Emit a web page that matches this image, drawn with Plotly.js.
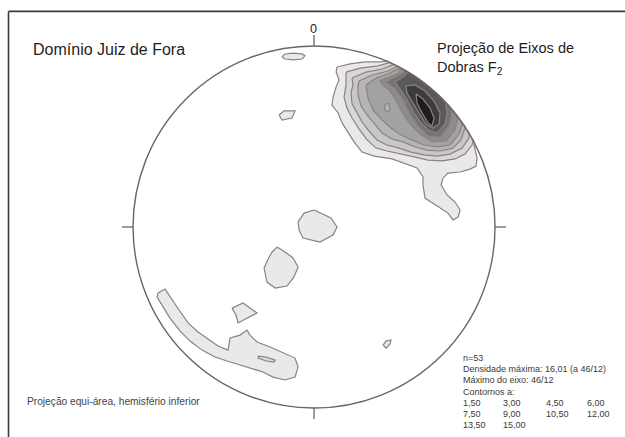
<!DOCTYPE html>
<html>
<head>
<meta charset="utf-8">
<script src="https://cdn.plot.ly/plotly-3.0.1.min.js"></script>
<style>
  html, body { margin: 0; padding: 0; background: #ffffff; overflow: hidden; }
  #chart { width: 625px; height: 437px; }
</style>
</head>
<body>
<div id="chart"></div>
<script>
// ---- Data (equal-area net coordinates, primitive circle radius = 100) ----
const nPoints = 53;
const maxDensity = 16.01;
const maxAxis = "46/12";
const contourLevels = [1.5, 3.0, 4.5, 6.0, 7.5, 9.0, 10.5, 12.0, 13.5, 15.0];

// NE cluster, one polygon per contour level (x = East, y = North)
const neLevel1 = [[12.7,88.4],[19.9,90.1],[28.2,91.2],[36.5,91.2],[45.3,92.3],[58.6,86.7],[72.4,76.8],[81.8,65.7],[88.4,52.5],[88.4,45.3],[90.1,38.1],[89.5,33.7],[86.2,32.0],[80.7,30.4],[74.0,29.8],[71.3,27.1],[70.2,23.2],[73.5,17.7],[77.9,13.8],[80.7,9.4],[79.6,5.5],[76.8,3.9],[74.0,7.7],[69.6,10.5],[65.2,13.3],[61.3,16.0],[60.2,23.2],[60.2,27.6],[56.9,32.6],[49.7,35.4],[43.1,37.6],[33.2,39.2],[26.5,41.4],[22.1,47.0],[18.8,51.9],[15.5,57.5],[13.3,63.0],[9.9,67.4],[10.5,71.8],[12.2,77.4],[13.8,81.2],[12.2,85.6]];
const neLevel2 = [[17.7,85.6],[25.4,87.8],[35.4,89.0],[43.1,91.2],[45.9,94.5],[61.3,87.8],[76.2,75.7],[85.1,63.5],[89.5,52.5],[87.3,45.3],[83.4,40.3],[77.9,37.6],[70.7,36.5],[63.0,37.0],[55.3,38.7],[47.5,40.3],[40.3,42.0],[34.3,43.6],[29.3,48.1],[24.9,54.1],[21.0,60.2],[18.2,65.7],[16.6,71.8],[17.7,78.5]];
const neLevel3 = [[21.0,82.3],[28.7,85.6],[37.6,87.3],[44.8,90.1],[47.0,94.5],[63.0,87.8],[77.9,74.6],[86.2,61.9],[85.6,49.2],[81.8,43.6],[75.1,40.3],[68.0,39.2],[60.8,39.8],[53.6,41.4],[47.0,43.6],[40.3,45.3],[34.8,48.1],[30.4,53.0],[26.5,58.0],[23.8,63.0],[21.0,68.0],[20.4,74.0],[21.5,78.5]];
const neLevel4 = [[24.9,80.7],[32.0,84.0],[40.9,86.2],[46.4,89.0],[48.1,93.9],[64.1,86.7],[79.6,72.9],[84.0,61.9],[83.4,54.7],[81.2,48.1],[76.8,43.6],[69.6,42.0],[62.4,42.5],[55.8,44.2],[49.2,47.0],[43.1,48.6],[37.6,51.9],[33.2,56.9],[29.3,61.9],[26.0,66.9],[24.3,72.9],[24.3,77.4]];
const neLevel5 = [[28.7,78.5],[34.3,82.3],[42.0,85.1],[47.0,87.8],[49.2,93.9],[65.2,85.6],[78.5,71.3],[82.3,58.0],[80.1,51.4],[75.1,45.3],[68.0,44.2],[60.8,45.3],[54.1,48.1],[48.1,50.8],[42.5,54.7],[37.0,59.7],[32.6,64.6],[29.8,71.3]];
const neLevel5Hole = [[39.2,68.0],[41.4,68.0],[42.0,65.2],[40.9,63.5],[39.2,64.6]];
const neLevel6 = [[36.5,80.7],[41.4,82.9],[47.0,85.1],[49.7,93.4],[65.7,85.6],[76.2,72.4],[79.6,61.3],[77.9,53.6],[72.9,47.5],[65.2,47.0],[58.6,51.4],[53.0,56.9],[48.6,63.5],[45.3,70.2],[41.4,75.7],[37.6,79.0]];
const neLevel7 = [[39.8,80.1],[44.8,82.9],[49.7,85.6],[53.0,92.3],[66.3,83.4],[74.6,71.8],[76.2,63.0],[74.6,55.8],[69.6,49.7],[63.0,50.3],[57.5,55.8],[53.0,62.4],[49.2,70.2],[44.8,76.2]];
const neLevel8 = [[44.8,80.1],[49.2,82.9],[54.1,87.8],[65.2,81.2],[72.4,70.7],[73.5,63.5],[72.4,56.9],[68.0,51.9],[63.0,53.6],[58.6,58.0],[54.7,64.1],[51.4,70.2],[47.5,76.2]];
const neLevel9 = [[50.8,77.9],[55.8,78.5],[61.3,75.1],[66.3,69.6],[69.6,63.0],[69.1,56.9],[65.7,54.7],[61.9,56.9],[58.0,63.0],[54.1,69.6],[51.4,74.0]];
const neLevel10 = [[56.4,73.5],[60.2,70.7],[64.1,65.7],[66.3,60.2],[65.2,55.8],[63.0,57.5],[59.7,63.0],[56.9,68.5]];

// isolated closed contours at the lowest level
const blobNorth = [[-17.7,93.9],[-16.0,95.6],[-11.6,96.1],[-6.6,95.6],[-5.0,94.5],[-6.6,92.8],[-11.6,92.3],[-16.0,92.8]];
const blobNorthWest = [[-19.3,61.9],[-16.6,64.1],[-10.5,64.1],[-12.2,60.2],[-17.7,59.1]];
const blobCentre = [[0.0,9.4],[5.0,7.2],[9.4,5.0],[12.7,0.0],[10.5,-4.4],[3.3,-8.3],[-2.2,-7.2],[-6.1,-6.1],[-8.3,-1.7],[-8.8,2.8],[-5.5,7.7]];
const blobCentreSW = [[-20.4,-11.1],[-16.0,-13.8],[-11.6,-17.1],[-8.8,-22.1],[-11.1,-27.6],[-14.9,-32.6],[-21.5,-33.7],[-26.0,-30.4],[-27.6,-22.7],[-25.4,-17.7],[-23.2,-13.8]];
const blobSouthWest = [[-45.3,-44.8],[-39.2,-42.0],[-31.5,-47.5],[-36.5,-50.3],[-42.0,-53.0],[-43.1,-48.6]];
const blobSWArc = [[-86.2,-36.5],[-82.3,-34.3],[-75.7,-44.2],[-69.6,-53.0],[-64.1,-58.0],[-57.5,-62.4],[-53.0,-65.7],[-47.5,-68.0],[-46.4,-61.3],[-40.9,-59.7],[-37.0,-56.9],[-35.4,-59.7],[-31.5,-63.5],[-24.3,-66.3],[-17.1,-69.6],[-10.5,-72.4],[-8.8,-77.4],[-10.5,-82.9],[-16.0,-84.5],[-22.7,-82.9],[-28.2,-80.1],[-33.7,-78.5],[-40.9,-76.2],[-48.1,-74.0],[-54.7,-71.8],[-61.9,-68.0],[-68.5,-63.0],[-74.0,-57.5],[-79.6,-50.3],[-84.0,-43.1],[-86.7,-38.7]];
const blobSWArcCore = [[-30.9,-71.3],[-26.5,-71.8],[-21.5,-73.5],[-22.1,-74.6],[-26.5,-74.0],[-30.9,-72.4]];
const blobSouthEast = [[38.1,-65.2],[39.8,-63.0],[42.5,-62.4],[42.0,-64.6],[39.8,-66.9]];

// ---- Styles ----
const levelFills = ['#e9e9e9','#d8d8d8','#c7c7c7','#b5b5b5','#a2a2a2','#8c8c8c','#747474','#595959','#3c3c3c','#1d1d1d'];
const lineColor = '#8d817e';

// polygon -> contour level index (0 = 1.50)
const polygons = [
  [neLevel1, 0], [neLevel2, 1], [neLevel3, 2], [neLevel4, 3], [neLevel5, 4],
  [neLevel5Hole, 3], [neLevel6, 5], [neLevel7, 6], [neLevel8, 7], [neLevel9, 8], [neLevel10, 9],
  [blobNorth, 0], [blobNorthWest, 0], [blobCentre, 0], [blobCentreSW, 0],
  [blobSouthWest, 0], [blobSWArc, 0], [blobSWArcCore, 1], [blobSouthEast, 0]
];

const traces = polygons.map(([poly, lvl]) => {
  const xs = poly.map(p => p[0]); const ys = poly.map(p => p[1]);
  xs.push(poly[0][0]); ys.push(poly[0][1]);
  return {
    type: 'scatter', mode: 'lines', x: xs, y: ys,
    fill: 'toself', fillcolor: levelFills[lvl],
    line: {color: lineColor, width: 1.2},
    hoverinfo: 'skip', showlegend: false,
    name: contourLevels[lvl].toFixed(2)
  };
});

// ---- Layout ----
const R = 100;
const fmt = v => v.toFixed(2).replace('.', ',');
const font = 'Liberation Sans, Arial, sans-serif';
const statsX = 0.7376;
const annotations = [
  {text: '0', x: 0.5008, y: 0.9336, size: 12.5, color: '#222', xanchor: 'center'},
  {text: 'Domínio Juiz de Fora', x: 0.0496, y: 0.8856, size: 16, color: '#1e1e1e'},
  {text: 'Projeção de Eixos de', x: 0.6958, y: 0.890, size: 14.5, color: '#1e1e1e'},
  {text: 'Dobras F<sub>2</sub>', x: 0.6958, y: 0.845, size: 14.5, color: '#1e1e1e'},
  {text: 'Projeção equi-área, hemisfério inferior', x: 0.0400, y: 0.0801, size: 10.2, color: '#444'},
  {text: 'n=' + nPoints, x: statsX, y: 0.1808, size: 9, color: '#3a3a3a'},
  {text: 'Densidade máxima: ' + fmt(maxDensity) + ' (a ' + maxAxis + ')', x: statsX, y: 0.1556, size: 9, color: '#3a3a3a'},
  {text: 'Máximo do eixo: ' + maxAxis, x: statsX, y: 0.1304, size: 9, color: '#3a3a3a'},
  {text: 'Contornos a:', x: statsX, y: 0.1040, size: 9, color: '#3a3a3a'}
];
const colX = [statsX, 0.8016, 0.8704, 0.9360];
const rowY = [0.0778, 0.0528, 0.0275];
contourLevels.forEach((lv, i) => {
  annotations.push({text: fmt(lv), x: colX[i % 4], y: rowY[Math.floor(i / 4)], size: 9, color: '#3a3a3a'});
});

const tickStyle = {color: '#6f6461', width: 1.3};
const layout = {
  width: 625, height: 437,
  margin: {l: 0, r: 0, t: 0, b: 0},
  paper_bgcolor: '#ffffff', plot_bgcolor: '#ffffff',
  xaxis: {range: [-173.5, 171.8], visible: false, fixedrange: true},
  yaxis: {range: [-116.0, 125.4], visible: false, fixedrange: true},
  showlegend: false,
  shapes: [
    // mask outside the primitive circle
    {type: 'circle', xref: 'x', yref: 'y', x0: -107.2, x1: 107.2, y0: -107.2, y1: 107.2,
     line: {color: '#ffffff', width: 24}, layer: 'above'},
    // primitive circle
    {type: 'circle', xref: 'x', yref: 'y', x0: -R, x1: R, y0: -R, y1: R,
     line: {color: '#6f6461', width: 1.4}, layer: 'above'},
    // cardinal ticks
    {type: 'line', x0: 0, x1: 0, y0: R, y1: R + 6.1, line: tickStyle, layer: 'above'},
    {type: 'line', x0: 0, x1: 0, y0: -R, y1: -R - 6.1, line: tickStyle, layer: 'above'},
    {type: 'line', x0: -R, x1: -R - 6.1, y0: 0, y1: 0, line: tickStyle, layer: 'above'},
    {type: 'line', x0: R, x1: R + 6.1, y0: 0, y1: 0, line: tickStyle, layer: 'above'},
    // frame (left and top edges only are visible)
    {type: 'line', x0: -168.8, x1: -168.8, y0: 119.1, y1: -116, line: {color: '#3c3c3c', width: 1.6}, layer: 'above'},
    {type: 'line', x0: -168.8, x1: 171.8, y0: 119.1, y1: 119.1, line: {color: '#3c3c3c', width: 1.6}, layer: 'above'}
  ],
  annotations: annotations.map(a => ({
    text: a.text, x: a.x, y: a.y, xref: 'paper', yref: 'paper',
    xanchor: a.xanchor || 'left', yanchor: 'middle', showarrow: false,
    font: {family: font, size: a.size, color: a.color}
  }))
};

Plotly.newPlot('chart', traces, layout, {staticPlot: true, displayModeBar: false});
</script>
</body>
</html>
